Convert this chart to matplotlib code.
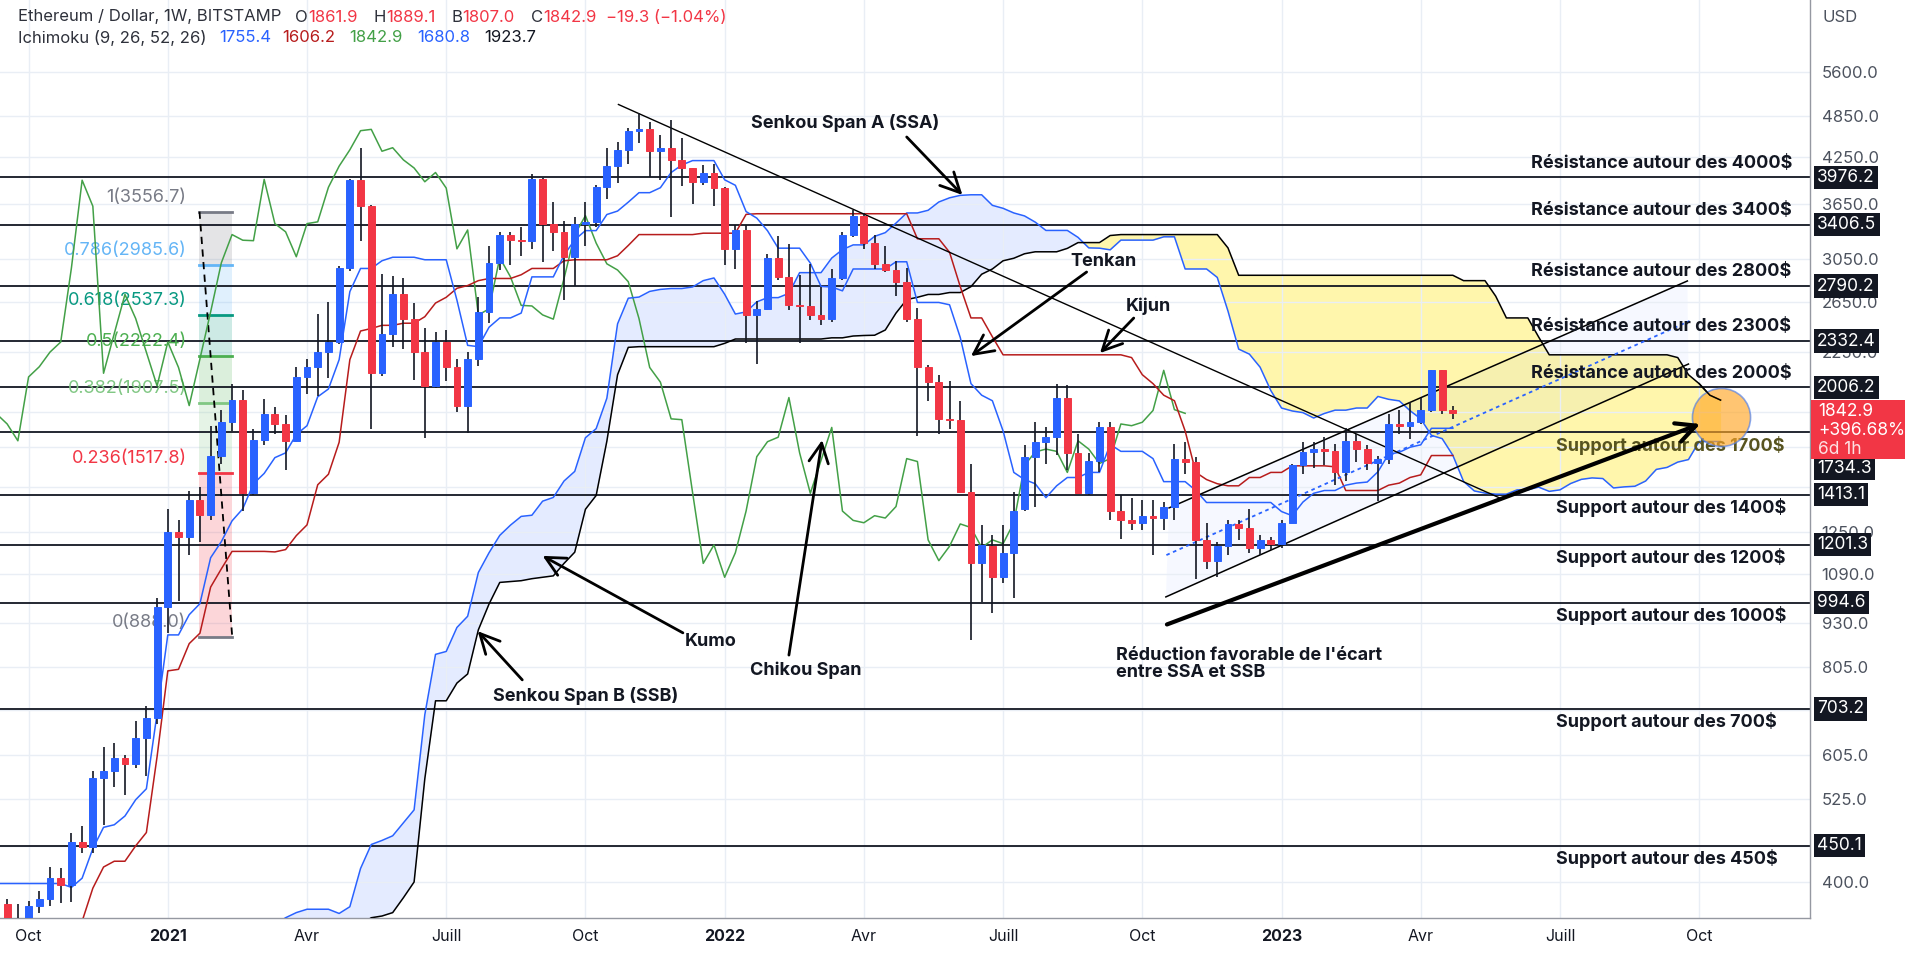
import numpy as np
import matplotlib
matplotlib.use("Agg")
import matplotlib.pyplot as plt
from matplotlib.ticker import NullLocator, NullFormatter
from matplotlib.transforms import blended_transform_factory
from matplotlib.patches import Rectangle

plt.rcParams['font.family'] = ['Inter', 'DejaVu Sans']

# weekly candles, week 0 = 21 Sep 2020 (ETH/USD Bitstamp)
opens = [372, 354, 346, 370, 378, 405, 396, 455, 449, 561,
         575, 600, 588, 640, 683, 980, 1250, 1232, 1390, 1325,
         1605, 1790, 1925, 1420, 1690, 1840, 1780, 1685, 2075, 2145,
         2250, 2325, 2960, 3940, 3620, 2100, 2390, 2715, 2510, 2250,
         2015, 2325, 2140, 1890, 2200, 2565, 3010, 3300, 3240, 3235,
         3950, 3420, 3330, 3070, 3420, 3440, 3850, 4125, 4350, 4630,
         4650, 4330, 4380, 4210, 4100, 3920, 4040, 3840, 3150, 3350,
         2540, 2590, 3060, 2875, 2620, 2615, 2540, 2505, 2860, 3300,
         3510, 3210, 3000, 2940, 2830, 2510, 2140, 2040, 1810, 1805,
         1425, 1130, 1195, 1080, 1170, 1350, 1600, 1680, 1705, 1940,
         1620, 1420, 1580, 1760, 1340, 1300, 1290, 1320, 1310, 1360,
         1590, 1575, 1220, 1140, 1195, 1285, 1270, 1190, 1220, 1205,
         1290, 1555, 1625, 1640, 1628, 1520, 1685, 1640, 1565, 1590,
         1780, 1770, 1790, 1860, 2120, 1861.9]
highs = [378, 372, 376, 388, 420, 418, 470, 480, 575, 622,
         630, 605, 675, 710, 1010, 1350, 1300, 1430, 1450, 1770,
         1860, 2030, 1990, 1750, 1930, 1880, 1830, 2140, 2200, 2550,
         2650, 2980, 3950, 4380, 3630, 2900, 2880, 2860, 2640, 2430,
         2400, 2420, 2200, 2250, 2690, 3180, 3330, 3330, 3380, 4020,
         3970, 3670, 3450, 3500, 3670, 3880, 4380, 4460, 4670, 4900,
         4770, 4560, 4800, 4520, 4100, 4140, 4150, 3850, 3410, 3400,
         2660, 3100, 3280, 3200, 2890, 3000, 2780, 2950, 3330, 3580,
         3540, 3300, 3180, 3030, 2960, 2600, 2160, 2090, 2050, 1920,
         1560, 1280, 1240, 1280, 1425, 1660, 1790, 1760, 2030, 2020,
         1720, 1620, 1790, 1790, 1410, 1400, 1390, 1390, 1380, 1670,
         1680, 1600, 1290, 1210, 1300, 1300, 1350, 1240, 1230, 1300,
         1560, 1680, 1680, 1705, 1670, 1755, 1720, 1660, 1605, 1840,
         1860, 1915, 1940, 2125, 2125, 1889.1]
lows = [316, 336, 334, 362, 370, 373, 375, 440, 440, 481,
        545, 531, 580, 565, 670, 900, 1000, 1160, 1210, 1300,
        1560, 1740, 1340, 1410, 1660, 1720, 1530, 1680, 1960, 1950,
        2065, 2310, 2930, 3230, 1750, 2080, 2290, 2270, 2054, 1700,
        2000, 2050, 1850, 1730, 2150, 2470, 2940, 2990, 3075, 3150,
        3020, 3130, 2666, 2790, 3180, 3380, 3700, 3900, 4150, 4450,
        3980, 3943, 3500, 3860, 3650, 3880, 3620, 2990, 2950, 2315,
        2165, 2580, 2850, 2580, 2320, 2500, 2460, 2480, 2850, 3270,
        3150, 2950, 2920, 2700, 2480, 1710, 1920, 1720, 1750, 1420,
        880, 995, 960, 1060, 1010, 1340, 1360, 1560, 1610, 1530,
        1420, 1410, 1520, 1300, 1225, 1260, 1260, 1160, 1260, 1300,
        1510, 1075, 1110, 1080, 1160, 1220, 1170, 1160, 1180, 1190,
        1290, 1510, 1540, 1555, 1460, 1476, 1570, 1530, 1385, 1560,
        1720, 1695, 1780, 1850, 1840, 1807.0]
closes = [354, 346, 370, 378, 405, 396, 455, 449, 561, 575,
          600, 588, 640, 683, 980, 1250, 1232, 1390, 1325, 1605,
          1790, 1925, 1420, 1690, 1840, 1780, 1685, 2075, 2145, 2250,
          2325, 2960, 3940, 3620, 2100, 2390, 2715, 2510, 2250, 2015,
          2325, 2140, 1890, 2200, 2565, 3010, 3300, 3240, 3235, 3950,
          3420, 3330, 3070, 3420, 3440, 3850, 4125, 4350, 4630, 4650,
          4330, 4380, 4210, 4100, 3920, 4040, 3840, 3150, 3350, 2540,
          2590, 3060, 2875, 2620, 2615, 2540, 2505, 2860, 3300, 3510,
          3210, 3000, 2940, 2830, 2510, 2140, 2040, 1810, 1805, 1425,
          1130, 1200, 1080, 1170, 1340, 1600, 1680, 1705, 1940, 1620,
          1420, 1580, 1760, 1340, 1300, 1290, 1320, 1310, 1360, 1590,
          1575, 1220, 1140, 1195, 1285, 1270, 1190, 1220, 1205, 1290,
          1555, 1625, 1640, 1628, 1520, 1685, 1640, 1565, 1590, 1780,
          1770, 1790, 1860, 2120, 1865, 1842.9]

# Ichimoku (9, 26, 52, 26), conversion / base lines start at week -1
LINE_START = -1
tenkan = [398, 398, 398, 398, 398, 398, 398, 393, 405,
          446, 478, 482, 496, 523, 542, 693, 895, 895, 956,
          991, 1151, 1213, 1298, 1350, 1465, 1515, 1595, 1620, 1720,
          1770, 1945, 1995, 2195, 2740, 2955, 2955, 3030, 3065, 3065,
          3065, 3040, 3040, 3040, 2665, 2300, 2290, 2440, 2515, 2515,
          2555, 2875, 2875, 2875, 3085, 3245, 3343, 3343, 3523, 3563,
          3668, 3783, 3783, 3845, 4040, 4140, 4200, 4200, 4200, 3945,
          3875, 3557, 3482, 3342, 3157, 3157, 3157, 3007, 2787, 2782,
          2747, 2950, 2950, 2950, 2950, 3020, 3020, 2645, 2645, 2645,
          2625, 2360, 2030, 1955, 1920, 1740, 1520, 1485, 1465, 1400,
          1455, 1495, 1495, 1520, 1520, 1665, 1628, 1628, 1628, 1590,
          1475, 1475, 1475, 1433, 1378, 1378, 1378, 1378, 1378, 1378,
          1378, 1338, 1320, 1380, 1420, 1433, 1433, 1458, 1468, 1473,
          1523, 1613, 1623, 1650, 1663, 1755, 1755, 1755]
kijun = [330, 330, 330, 330, 330, 330, 330, 330, 352,
         392, 420, 428, 428, 450, 470, 602, 796, 800, 870,
         900, 1046, 1110, 1175, 1175, 1175, 1175, 1173, 1182, 1237,
         1281, 1460, 1511, 1677, 2195, 2410, 2430, 2455, 2455, 2472,
         2472, 2525, 2640, 2690, 2770, 2795, 2840, 2860, 2860, 2860,
         2895, 2955, 2955, 2955, 3030, 3040, 3040, 3040, 3040, 3080,
         3185, 3300, 3300, 3300, 3300, 3300, 3300, 3315, 3315, 3315,
         3315, 3525, 3532, 3532, 3532, 3532, 3532, 3532, 3532, 3532,
         3532, 3532, 3532, 3532, 3532, 3532, 3532, 3255, 3255, 3255,
         3115, 2785, 2515, 2515, 2365, 2230, 2230, 2230, 2230, 2230,
         2230, 2230, 2230, 2230, 2230, 2230, 2230, 2210, 2090, 2030,
         1955, 1920, 1740, 1520, 1485, 1465, 1455, 1455, 1495, 1495,
         1520, 1520, 1553, 1553, 1553, 1553, 1548, 1433, 1433, 1433,
         1433, 1458, 1468, 1495, 1508, 1606, 1606, 1606]

# leading spans, already shifted forward, start at week 24
CLOUD_START = 24
senkou_a = [340, 348, 356, 362, 366, 366, 366, 361, 369, 418,
            452, 458, 465, 485, 506, 690, 840, 848, 917, 951,
            1097, 1170, 1238, 1280, 1317, 1322, 1384, 1401, 1478, 1525,
            1702, 1753, 1936, 2467, 2682, 2692, 2742, 2760, 2768, 2768,
            2782, 2840, 2865, 2717, 2547, 2565, 2650, 2687, 2687, 2725,
            2915, 2915, 2915, 3057, 3142, 3191, 3191, 3281, 3321, 3426,
            3541, 3541, 3572, 3670, 3720, 3750, 3757, 3757, 3630, 3595,
            3541, 3507, 3437, 3345, 3345, 3345, 3270, 3160, 3157, 3140,
            3241, 3241, 3241, 3241, 3276, 3276, 2950, 2950, 2950, 2870,
            2572, 2272, 2235, 2142, 1985, 1875, 1857, 1847, 1815, 1842,
            1862, 1862, 1875, 1875, 1947, 1929, 1919, 1859, 1810, 1715,
            1697, 1607, 1476, 1431, 1421, 1416, 1416, 1436, 1436, 1449,
            1429, 1436, 1466, 1486, 1493, 1490, 1445, 1450, 1453, 1478,
            1535, 1545, 1572, 1585, 1681, 1681, 1681]
senkou_b = [330, 330, 330, 330, 330, 330, 330, 335, 340, 348,
            356, 358, 362, 380, 400, 560, 722, 722, 765, 788,
            910, 990, 1062, 1065, 1068, 1075, 1080, 1085, 1130, 1172,
            1348, 1410, 1683, 2090, 2285, 2290, 2290, 2290, 2290, 2290,
            2290, 2290, 2290, 2315, 2348, 2348, 2348, 2348, 2348, 2348,
            2348, 2348, 2348, 2357, 2357, 2371, 2375, 2377, 2418, 2555,
            2670, 2690, 2715, 2715, 2732, 2732, 2785, 2900, 2950, 3030,
            3055, 3100, 3120, 3120, 3120, 3155, 3215, 3215, 3215, 3290,
            3300, 3300, 3300, 3300, 3300, 3300, 3300, 3300, 3300, 3300,
            3160, 2890, 2890, 2890, 2890, 2890, 2890, 2890, 2890, 2890,
            2890, 2890, 2890, 2890, 2890, 2890, 2890, 2890, 2890, 2890,
            2890, 2890, 2840, 2840, 2840, 2700, 2515, 2515, 2515, 2365,
            2230, 2230, 2230, 2230, 2230, 2230, 2230, 2230, 2230, 2230,
            2230, 2230, 2210, 2090, 2030, 1955, 1924]
CHIKOU_SHIFT = 25

x_tick_weeks = [2, 15, 28, 41, 54, 67, 80, 93, 106, 119, 132, 145, 158]
x_tick_labels = ['Oct', '2021', 'Avr', 'Juill', 'Oct', '2022', 'Avr', 'Juill', 'Oct',
                 '2023', 'Avr', 'Juill', 'Oct']
y_ticks = [5600, 4850, 4250, 3650, 3050, 2650, 2250, 1850, 1650, 1450, 1250,
           1090, 930, 805, 700, 605, 525, 450, 400]
# tick labels that sit under a price box on the axis
y_hidden = [1850, 1650, 1450, 700, 450]

levels = [3976.2, 3406.5, 2790.2, 2332.4, 2006.2, 1734.3, 1413.1, 1201.3, 994.6, 703.2, 450.1]
level_notes = ['Résistance autour des 4000$', 'Résistance autour des 3400$',
               'Résistance autour des 2800$', 'Résistance autour des 2300$',
               'Résistance autour des 2000$', 'Support autour des 1700$',
               'Support autour des 1400$', 'Support autour des 1200$',
               'Support autour des 1000$', 'Support autour des 700$',
               'Support autour des 450$']

fib_ratios = [0, 0.236, 0.382, 0.5, 0.618, 0.786, 1]
fib_prices = [888.0, 1517.8, 1907.5, 2222.4, 2537.3, 2985.6, 3556.7]
fib_colors = ['#787B86', '#F23645', '#81C784', '#4CAF50', '#089981', '#64B5F6', '#787B86']

BLUE = '#2962FF'
RED = '#F23645'
DARK = '#131722'
AXIS_FS = 12.5
NOTE_FS = 13

fig = plt.figure(figsize=(19.2, 9.6), dpi=100)
ax = fig.add_axes([0, 42 / 960, 1810 / 1920, 918 / 960])
ax.set_yscale('log')
ax.set_xlim(-0.669, 168.35)
ax.set_ylim(355.7, 7089)

# grid + axes look
ax.set_xticks(x_tick_weeks)
ax.set_xticklabels(x_tick_labels)
ax.set_yticks(y_ticks)
ax.set_yticklabels(['' if v in y_hidden else f'{v:.1f}' for v in y_ticks])
ax.yaxis.set_minor_locator(NullLocator())
ax.yaxis.set_minor_formatter(NullFormatter())
ax.yaxis.tick_right()
ax.tick_params(axis='y', length=0, pad=8.3, labelsize=12, labelcolor='#4C525E')
ax.tick_params(axis='x', length=0, pad=8, labelsize=11.5, labelcolor=DARK)
for lbl in ax.get_xticklabels():
    if lbl.get_text().isdigit():
        lbl.set_fontweight('bold')
ax.grid(True, color='#E9EEF5', lw=1)
for side in ['top', 'left']:
    ax.spines[side].set_visible(False)
for side in ['right', 'bottom']:
    ax.spines[side].set_color('#9598A1')
    ax.spines[side].set_linewidth(1)

# kumo
cw = np.arange(CLOUD_START, CLOUD_START + len(senkou_a))
sa = np.array(senkou_a, dtype=float)
sb = np.array(senkou_b, dtype=float)
ax.fill_between(cw, sa, sb, where=sa >= sb, interpolate=True, color=BLUE, alpha=0.12, lw=0, zorder=1)
ax.fill_between(cw, sa, sb, where=sa < sb, interpolate=True, color='#FFEB3B', alpha=0.42, lw=0, zorder=1)

# horizontal levels
for p in levels:
    ax.axhline(p, color=DARK, lw=1.3, zorder=2)

# fibonacci retracement
fx0, fx1 = 17.96, 21.02
for i in range(len(fib_prices) - 1):
    ax.fill_between([fx0, fx1], fib_prices[i], fib_prices[i + 1], color=fib_colors[i + 1],
                    alpha=0.2, lw=0, zorder=1.6)
for r, p, col in zip(fib_ratios, fib_prices, fib_colors):
    ax.plot([fx0, fx1], [p, p], color=col, lw=2, zorder=2.2)
    ax.annotate(f'{r:g}({p:.1f})', xy=(16.75, p), xytext=(0, 10.5), textcoords='offset points',
                ha='right', va='center', color=col, fontsize=13, zorder=2.2)
ax.plot([fx0, fx1], [fib_prices[-1], fib_prices[0]], color='black', lw=1.3, ls=(0, (4, 3)), zorder=2.3)

# parallel channel + trend line
ax.fill([108.5, 156.9, 157.0, 108.2], [1354, 2837, 2164, 1013], color=BLUE, alpha=0.04, lw=0, zorder=1.5)
ax.plot([108.5, 156.9], [1354, 2837], color='black', lw=1.1, zorder=3.5)
ax.plot([108.2, 157.0], [1013, 2164], color='black', lw=1.1, zorder=3.5)
ax.plot([108.25, 157.1], [1161, 2490], color=BLUE, lw=1.3, ls=(0, (2, 2)), zorder=3.5)
ax.plot([57.08, 139.4], [5043, 1398], color='black', lw=1, zorder=3.5)

# ichimoku lines
lw_ = np.arange(LINE_START, LINE_START + len(tenkan))
w = np.arange(len(closes))
ax.plot(w - CHIKOU_SHIFT, closes, color='#43A047', lw=1.1, zorder=3)
ax.plot(cw, sa, color=BLUE, lw=1.1, zorder=3)
ax.plot(cw, sb, color='black', lw=1.1, zorder=3)
ax.plot(lw_, kijun, color='#B71C1C', lw=1.1, zorder=3)
ax.plot(lw_, tenkan, color=BLUE, lw=1.1, zorder=3)

# candles
o = np.array(opens, dtype=float)
c = np.array(closes, dtype=float)
h = np.array(highs, dtype=float)
l = np.array(lows, dtype=float)
up = c >= o
ax.vlines(w, l, h, color='#131722', lw=1.2, zorder=4)
ax.bar(w[up], (c - o)[up], bottom=o[up], width=0.64, color=BLUE, edgecolor=BLUE, lw=0.7, zorder=5)
ax.bar(w[~up], (o - c)[~up], bottom=c[~up], width=0.64, color=RED, edgecolor=RED, lw=0.7, zorder=5)

# level notes
for p, txt in zip(levels, level_notes):
    if txt.startswith('R'):
        ax.annotate(txt, xy=(142.3, p), xytext=(0, 10.2), textcoords='offset points', ha='left',
                    va='center', fontsize=NOTE_FS, fontweight='bold', color=DARK, zorder=6)
    else:
        col = '#57531F' if '1700' in txt else DARK
        ax.annotate(txt, xy=(144.6, p), xytext=(0, -9.4), textcoords='offset points', ha='left',
                    va='center', fontsize=NOTE_FS, fontweight='bold', color=col, zorder=6)

# highlighted zone
ax.scatter([160.04], [1821], s=1750, facecolor='#FFA726', alpha=0.65, edgecolor='#4A7BEA',
           linewidth=1.2, zorder=6.5)
ax.plot(cw[-3:], sb[-3:], color='black', lw=1, zorder=6.6)


# annotations
def note(txt, pos, tail, head):
    ax.text(pos[0], pos[1], txt, ha='center', va='center', fontsize=NOTE_FS, fontweight='bold',
            color=DARK, zorder=7)
    ax.annotate('', xy=head, xytext=tail,
                arrowprops=dict(arrowstyle='->,head_length=0.7,head_width=0.35', lw=2,
                                color='black', shrinkA=0, shrinkB=0, mutation_scale=20),
                zorder=7)


note('Senkou Span A (SSA)', (78.24, 4748), (84.0, 4536), (89.2, 3755))
note('Tenkan', (102.4, 3018), (100.8, 2921), (90.0, 2221))
note('Kijun', (106.6, 2614), (105.2, 2514), (102.05, 2243))
note('Kumo', (65.7, 877), (63.1, 901), (50.0, 1158))
note('Senkou Span B (SSB)', (54.05, 733), (48.1, 773), (43.94, 906))
note('Chikou Span', (74.6, 798), (73.0, 838), (76.1, 1689))
ax.text(103.54, 813, "Réduction favorable de l'écart\nentre SSA et SSB", ha='left', va='center',
        fontsize=NOTE_FS, fontweight='bold', color=DARK, linespacing=1.0, zorder=7)
ax.annotate('', xy=(158.1, 1780), xytext=(108.3, 926),
            arrowprops=dict(arrowstyle='->,head_length=0.7,head_width=0.35', lw=3, color='black',
                            shrinkA=0, shrinkB=0, mutation_scale=20), zorder=7)

# price boxes on the axis (the 1734.3 one is pushed below the last-price box)
tr = blended_transform_factory(ax.transAxes, ax.transData)
for p in levels:
    dy = -26 if p == 1734.3 else 0
    ax.annotate(f'{p:.1f}', xy=(1.0, p), xycoords=tr, xytext=(5.2, dy), textcoords='offset points',
                ha='left', va='center', fontsize=AXIS_FS, color='white', annotation_clip=False,
                bbox=dict(boxstyle='square,pad=0.18', fc=DARK, ec='none'), zorder=8)

fig.patches.append(Rectangle((1811 / 1920, 1 - 459 / 960), 94 / 1920, 59 / 960,
                             transform=fig.transFigure, fc=RED, ec='none', zorder=5))
for txt, yy, a in [('1842.9', 411, 1), ('+396.68%', 430, 1), ('6d 1h', 449, 0.85)]:
    fig.text(1818 / 1920, 1 - yy / 960, txt, color='white', alpha=a, fontsize=AXIS_FS, va='center',
             ha='left', zorder=6)
fig.text(1822 / 1920, 1 - 18 / 960, 'USD', color='#4C525E', fontsize=12, va='center', ha='left')

# legend lines at top left
renderer = fig.canvas.get_renderer()


def segments(parts, x, y):
    for txt, col, gap in parts:
        x += gap
        t = fig.text(x / 1920, 1 - y / 960, txt, color=col, fontsize=12, va='center', ha='left')
        x += t.get_window_extent(renderer=renderer).width


segments([('Ethereum / Dollar, 1W, BITSTAMP', '#2E313B', 0), ('O', '#2E313B', 14), ('1861.9', RED, 0),
          ('H', '#2E313B', 16), ('1889.1', RED, 0), ('B', '#2E313B', 16), ('1807.0', RED, 0),
          ('C', '#2E313B', 16), ('1842.9', RED, 0), ('−19.3 (−1.04%)', RED, 10)], 18, 17)
segments([('Ichimoku (9, 26, 52, 26)', '#2E313B', 0), ('1755.4', BLUE, 13), ('1606.2', '#B71C1C', 11),
          ('1842.9', '#43A047', 13), ('1680.8', BLUE, 15), ('1923.7', DARK, 14)], 18, 38)

fig.savefig('out.png', dpi=100)
